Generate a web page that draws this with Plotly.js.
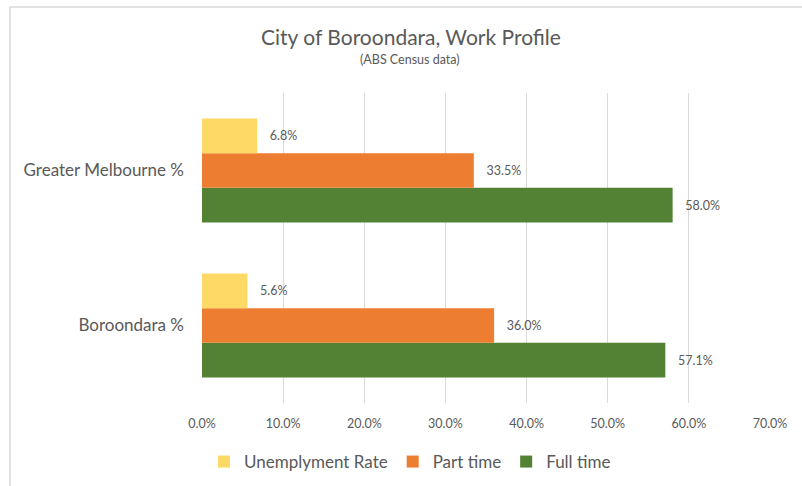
<!DOCTYPE html>
<html>
<head>
<meta charset="utf-8">
<script src="https://cdn.plot.ly/plotly-3.0.1.min.js"></script>
<style>html,body{margin:0;padding:0;background:#fff;}#chart{width:802px;height:486px;}</style>
</head>
<body>
<div id="chart"></div>
<script>
const categories = ["Boroondara %", "Greater Melbourne %"];
const unemployment = [5.6, 6.8];
const partTime = [36.0, 33.5];
const fullTime = [57.1, 58.0];
const tickValues = [0, 10, 20, 30, 40, 50, 60, 70];
const tickLabels = ["0.0%", "10.0%", "20.0%", "30.0%", "40.0%", "50.0%", "60.0%", "70.0%"];

const font = "Lato, 'Open Sans', sans-serif";
const textColor = "#595959";

function barTrace(name, values, color) {
  return {
    type: "bar", orientation: "h", name: name,
    y: categories, x: values,
    marker: {color: color},
    text: values.map(v => v.toFixed(1) + "%"),
    texttemplate: "   %{text}",
    textposition: "outside",
    cliponaxis: false,
    textfont: {family: font, size: 12.5, color: textColor},
    hoverinfo: "skip"
  };
}

const data = [
  barTrace("Full time", fullTime, "#548235"),
  barTrace("Part time", partTime, "#ED7D31"),
  barTrace("Unemplyment Rate", unemployment, "#FFD966")
];

const L = 202, R = 770, T = 93, B = 403;
const W = R - L, H = B - T;
const px = x => (x - L) / W;
const py = y => (B - y) / H;

const layout = {
  width: 802, height: 486,
  margin: {l: L, r: 802 - R, t: T, b: 486 - B, autoexpand: false},
  paper_bgcolor: "#fff", plot_bgcolor: "#fff",
  barmode: "group", bargap: 0.33, bargroupgap: 0,
  font: {family: font, color: textColor},
  showlegend: true,
  legend: {
    orientation: "h", traceorder: "reversed",
    x: px(410), xanchor: "center", y: py(462), yanchor: "middle",
    font: {family: font, size: 17, color: textColor},
    itemwidth: 30
  },
  xaxis: {
    range: [0, 70], tickvals: tickValues, ticktext: tickLabels,
    showgrid: true, gridcolor: "#D9D9D9", gridwidth: 1,
    zeroline: false, showline: false, ticks: "",
    tickfont: {family: font, size: 12.5, color: textColor},
    ticklabelstandoff: 11, fixedrange: true
  },
  yaxis: {
    type: "category", showgrid: false, zeroline: false, showline: false, ticks: "",
    tickfont: {family: font, size: 17, color: textColor},
    ticklabelstandoff: 17, fixedrange: true
  },
  annotations: [
    {text: "City of Boroondara, Work Profile", xref: "paper", yref: "paper",
     x: px(411), y: py(37), xanchor: "center", yanchor: "middle", showarrow: false,
     font: {family: font, size: 21, color: textColor}},
    {text: "(ABS Census data)", xref: "paper", yref: "paper",
     x: px(410), y: py(59.5), xanchor: "center", yanchor: "middle", showarrow: false,
     font: {family: font, size: 12.5, color: textColor}}
  ],
  shapes: [
    {type: "line", xref: "paper", yref: "paper", x0: px(10), x1: px(10), y0: py(7), y1: py(486), line: {color: "#D9D9D9", width: 1.5}},
    {type: "line", xref: "paper", yref: "paper", x0: px(10), x1: px(802), y0: py(7), y1: py(7), line: {color: "#D9D9D9", width: 1.5}}
  ]
};

Plotly.newPlot("chart", data, layout, {displayModeBar: false, staticPlot: true});
</script>
</body>
</html>
